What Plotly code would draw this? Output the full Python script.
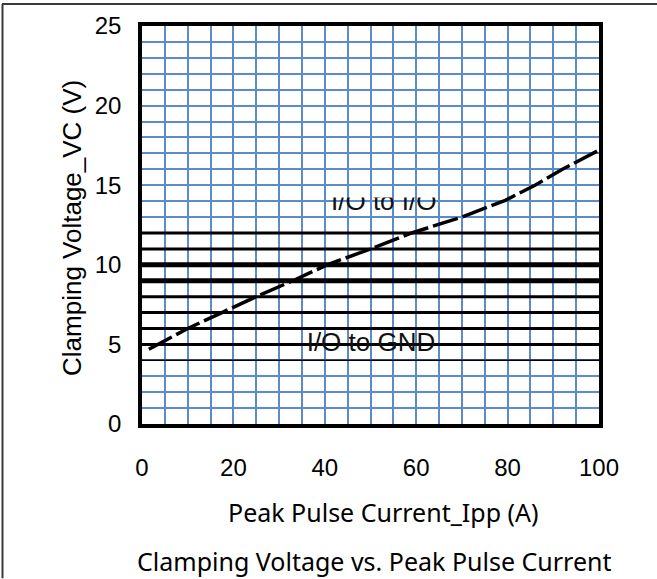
import plotly.graph_objects as go

# ---- data ----
ipp = [1.5, 10, 17.5, 25, 33, 40.5, 50, 59, 70, 79.5, 86, 92, 100]
vc = [4.7, 6.0, 7.0, 8.0, 9.0, 10.0, 11.0, 12.0, 13.0, 14.05, 15.0, 16.0, 17.2]

ref_levels = [4, 5, 6, 7, 8, 9, 10, 11, 12]
ref_widths = [1.5, 3, 3, 3, 3, 5, 5, 3, 3]

label_gnd = "I/O to GND"
label_io = "I/O to I/O"
label_gnd_pos = (50.1, 4.98)
label_io_pos = (52.9, 13.83)
io_clip_top = 14.23

x_ticks = [0, 20, 40, 60, 80, 100]
y_ticks = [0, 5, 10, 15, 20, 25]

W, H = 657, 579
ML, MR, MT, MB = 142, 58, 24, 155
PW, PH = W - ML - MR, H - MT - MB


def px_x(px):
    return (px - ML) / PW


def px_y(py):
    return (H - MB - py) / PH


fig = go.Figure()

for lv, lw in zip(ref_levels, ref_widths):
    fig.add_trace(go.Scatter(x=[0, 100], y=[lv, lv], mode="lines",
                             line=dict(color="black", width=lw),
                             hoverinfo="skip", showlegend=False))

fig.add_trace(go.Scatter(x=ipp, y=vc, mode="lines",
                         line=dict(color="black", width=3.5, dash="26px,5px"),
                         showlegend=False))

fig.add_trace(go.Scatter(x=[label_gnd_pos[0]], y=[label_gnd_pos[1]], mode="text",
                         text=[label_gnd],
                         textfont=dict(family="Liberation Sans, Arial", size=26, color="#111111"),
                         showlegend=False, hoverinfo="skip"))

# clipped label on an overlay subplot whose top stops at io_clip_top
fig.add_trace(go.Scatter(x=[label_io_pos[0]], y=[label_io_pos[1]], mode="text",
                         text=[label_io], cliponaxis=True,
                         textfont=dict(family="Liberation Sans, Arial", size=26, color="#111111"),
                         xaxis="x2", yaxis="y2",
                         showlegend=False, hoverinfo="skip"))

tick_font = dict(family="Liberation Sans, Arial", size=24, color="black")
grid_col = "#5a8ccc"

fig.update_layout(
    width=W, height=H,
    margin=dict(l=ML, r=MR, t=MT, b=MB),
    paper_bgcolor="white", plot_bgcolor="rgba(0,0,0,0)",
    xaxis=dict(range=[0, 100], tickvals=x_ticks, showgrid=True, gridcolor=grid_col, gridwidth=2,
               minor=dict(dtick=5, showgrid=True, gridcolor=grid_col, gridwidth=2),
               showline=True, mirror=True, linecolor="black", linewidth=3.5,
               ticks="", tickfont=tick_font, ticklabelstandoff=19, zeroline=False,
               fixedrange=True),
    yaxis=dict(range=[0, 25], tickvals=y_ticks, showgrid=True, gridcolor=grid_col, gridwidth=2,
               minor=dict(dtick=1, showgrid=True, gridcolor=grid_col, gridwidth=2),
               showline=True, mirror=True, linecolor="black", linewidth=3.5,
               ticks="", tickfont=tick_font, ticklabelstandoff=12, zeroline=False,
               fixedrange=True),
    xaxis2=dict(range=[0, 100], domain=[0, 1], anchor="y2", overlaying="x", visible=False,
                fixedrange=True),
    yaxis2=dict(range=[0, io_clip_top], domain=[0, io_clip_top / 25], anchor="x2", visible=False,
                fixedrange=True),
    annotations=[
        dict(text="Peak Pulse Current_Ipp (A)", xref="paper", yref="paper",
             x=px_x(383), y=px_y(512), xanchor="center", yanchor="middle", showarrow=False,
             font=dict(family="Noto Sans", size=25, color="black")),
        dict(text="Clamping Voltage vs. Peak Pulse Current", xref="paper", yref="paper",
             x=px_x(374), y=px_y(562), xanchor="center", yanchor="middle", showarrow=False,
             font=dict(family="Noto Sans", size=25, color="black")),
        dict(text="Clamping Voltage_VC (V)", xref="paper", yref="paper",
             x=px_x(72), y=px_y(227), xanchor="center", yanchor="middle", showarrow=False,
             textangle=-90,
             font=dict(family="Liberation Sans, Arial", size=26, color="black")),
    ],
    shapes=[
        dict(type="line", xref="paper", yref="paper", x0=px_x(2), x1=px_x(657),
             y0=px_y(2), y1=px_y(2), line=dict(color="#3a3a3a", width=2)),
        dict(type="line", xref="paper", yref="paper", x0=px_x(2.5), x1=px_x(2.5),
             y0=px_y(2), y1=px_y(579), line=dict(color="#3a3a3a", width=2)),
    ],
)

fig.write_html("out.html", config={"displayModeBar": False},
               post_script="document.body.style.margin='0px';document.body.style.overflow='hidden';")
